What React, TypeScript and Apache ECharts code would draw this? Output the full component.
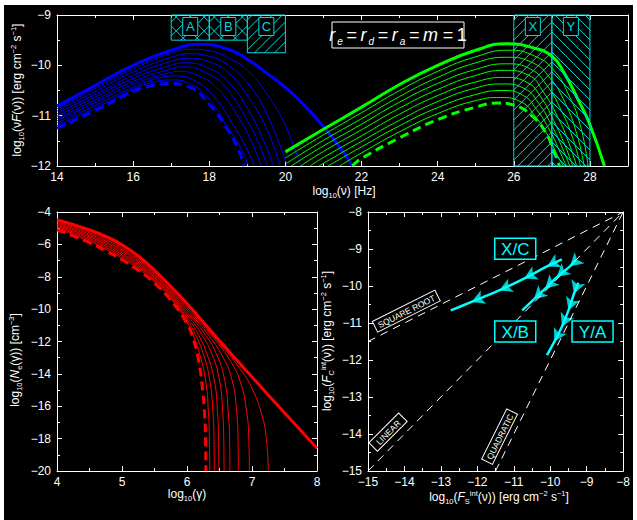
import React, { useEffect, useRef } from 'react';
import * as echarts from 'echarts';

const FONT = '"Liberation Sans", Arial, sans-serif';
const WHITE = '#ffffff';
const CYAN = '#00ffff';
const HATCH = '#00d8d8';
const BLUE = '#0000ff';
const GREEN = '#00ff00';
const RED = '#ff0000';

// ---------- top panel: synchrotron (blue) ----------
const blueSolid = [[14,-10.81],[15,-10.4],[16,-10.0],[17,-9.7],[17.75,-9.58],[18.5,-9.68],[19,-9.88],[19.5,-10.15],[20,-10.44],[20.5,-10.8],[21,-11.22],[21.5,-11.7],[21.76,-12]];
const blueThin1 = [[14,-10.86],[15,-10.46],[16,-10.07],[17,-9.76],[17.6,-9.68],[18,-9.71],[18.5,-9.85],[19,-10.1],[19.5,-10.55],[20,-11.2],[20.4,-12]];
const blueThin2 = [[14,-10.91],[15,-10.52],[16,-10.13],[17,-9.84],[17.5,-9.77],[18,-9.82],[18.5,-10.0],[19,-10.35],[19.5,-10.95],[20.05,-12]];
const blueThin3 = [[14,-10.96],[15,-10.58],[16,-10.2],[17,-9.92],[17.45,-9.86],[18,-9.93],[18.5,-10.15],[19,-10.6],[19.5,-11.25],[19.86,-12]];
const blueThin4 = [[14,-11.01],[15,-10.63],[16,-10.26],[17,-10.0],[17.35,-9.95],[18,-10.06],[18.5,-10.33],[19,-10.85],[19.4,-11.45],[19.69,-12]];
const blueThin5 = [[14,-11.06],[15,-10.69],[16,-10.32],[17,-10.07],[17.3,-10.03],[18,-10.18],[18.5,-10.5],[19,-11.1],[19.3,-11.55],[19.52,-12]];
const blueThin6 = [[14,-11.1],[15,-10.74],[16,-10.38],[17,-10.14],[17.2,-10.12],[17.7,-10.2],[18.2,-10.45],[18.7,-10.95],[19.1,-11.5],[19.36,-12]];
const blueThin7 = [[14,-11.15],[15,-10.8],[16,-10.44],[16.6,-10.27],[17.1,-10.21],[17.6,-10.3],[18.1,-10.6],[18.6,-11.15],[18.95,-11.6],[19.18,-12]];
const blueThin8 = [[14,-11.2],[15,-10.85],[16,-10.48],[16.5,-10.34],[17,-10.29],[17.5,-10.37],[18,-10.68],[18.5,-11.25],[18.8,-11.6],[19.03,-12]];
const blueDashed = [[14,-11.25],[15,-10.9],[16,-10.52],[16.5,-10.4],[16.9,-10.36],[17.5,-10.44],[18,-10.78],[18.5,-11.3],[18.75,-11.65],[18.92,-12]];

// ---------- top panel: inverse Compton (green) ----------
const greenSolid = [[20,-11.72],[21,-11.27],[22,-10.83],[23,-10.38],[24,-10.0],[25,-9.7],[25.8,-9.57],[26.5,-9.65],[27,-9.82],[27.3,-10.12],[27.7,-10.7],[28,-11.18],[28.38,-12]];
const greenThin1 = [[20,-11.84],[21,-11.38],[22,-10.94],[23,-10.5],[24,-10.12],[25,-9.83],[25.85,-9.7],[26.5,-9.8],[27.05,-10.1],[27.45,-10.6],[27.75,-11.2],[27.95,-12]];
const greenThin2 = [[20,-11.96],[21,-11.49],[22,-11.06],[23,-10.62],[24,-10.24],[25,-9.95],[25.8,-9.84],[26.5,-9.95],[26.95,-10.25],[27.35,-10.75],[27.65,-11.35],[27.85,-12]];
const greenThin3 = [[20.15,-12],[21,-11.6],[22,-11.17],[23,-10.73],[24,-10.36],[25,-10.08],[25.8,-9.97],[26.45,-10.08],[26.85,-10.38],[27.25,-10.9],[27.55,-11.45],[27.75,-12]];
const greenThin4 = [[20.4,-12],[21,-11.71],[22,-11.28],[23,-10.85],[24,-10.48],[25,-10.2],[25.75,-10.1],[26.4,-10.2],[26.75,-10.5],[27.15,-11.02],[27.45,-11.55],[27.65,-12]];
const greenThin5 = [[20.65,-12],[21,-11.83],[22,-11.4],[23,-10.97],[24,-10.6],[25,-10.33],[25.75,-10.24],[26.35,-10.34],[26.7,-10.62],[27.05,-11.1],[27.35,-11.6],[27.55,-12]];
const greenThin6 = [[20.88,-12],[22,-11.51],[23,-11.09],[24,-10.72],[25,-10.45],[25.7,-10.37],[26.3,-10.47],[26.65,-10.75],[27.0,-11.2],[27.28,-11.65],[27.47,-12]];
const greenThin7 = [[21.12,-12],[22,-11.62],[23,-11.2],[24,-10.84],[25,-10.58],[25.7,-10.5],[26.25,-10.6],[26.6,-10.88],[26.95,-11.3],[27.2,-11.7],[27.38,-12]];
const greenThin8 = [[21.42,-12],[22,-11.74],[23,-11.32],[24,-10.96],[25,-10.7],[25.65,-10.64],[26.2,-10.73],[26.55,-11.0],[26.9,-11.4],[27.12,-11.75],[27.3,-12]];
const greenDashed = [[21.76,-12],[22,-11.85],[23,-11.44],[24,-11.08],[25,-10.83],[25.6,-10.75],[26,-10.79],[26.5,-11.02],[26.85,-11.35],[27.05,-11.7],[27.2,-12]];

// hatched bands
const bandNames = ['A', 'B', 'C', 'X', 'Y'];
const bandX0 = [17, 18, 19, 26, 27];
const bandX1 = [18, 19, 20, 27, 28];
const bandTop = [-9, -9, -9, -9, -9];
const bandBottom = [-9.5, -9.5, -9.75, -12, -12];
const bandHatch = ['/\\', '/\\', '/', '/', '\\'];

// ---------- bottom-left: electron spectra (red) ----------
const redSolid = [[4,-4.47],[4.5,-5.1],[4.75,-5.5],[5,-6.02],[5.25,-6.72],[5.5,-7.6],[5.75,-8.6],[6,-9.65],[6.5,-11.95],[7,-14.2],[7.5,-16.4],[8,-18.6]];
const redThin1 = [[4,-4.54],[4.5,-5.19],[4.75,-5.6],[5,-6.12],[5.25,-6.82],[5.5,-7.69],[5.75,-8.69],[6,-9.78],[6.5,-12.1],[6.8,-13.6],[7,-14.9],[7.15,-16.5],[7.22,-18],[7.25,-20]];
const redThin2 = [[4,-4.61],[4.5,-5.28],[4.75,-5.7],[5,-6.23],[5.25,-6.92],[5.5,-7.78],[5.75,-8.79],[6,-9.92],[6.4,-11.75],[6.65,-13.1],[6.82,-14.5],[6.92,-16.4],[6.95,-18],[6.96,-20]];
const redThin3 = [[4,-4.68],[4.5,-5.37],[4.75,-5.8],[5,-6.33],[5.25,-7.01],[5.5,-7.87],[5.75,-8.88],[6,-10.05],[6.3,-11.45],[6.55,-12.95],[6.7,-14.5],[6.765,-16.4],[6.785,-18],[6.79,-20]];
const redThin4 = [[4,-4.75],[4.5,-5.46],[4.75,-5.9],[5,-6.43],[5.25,-7.11],[5.5,-7.96],[5.75,-8.98],[6,-10.2],[6.25,-11.4],[6.45,-12.75],[6.58,-14.4],[6.635,-16.4],[6.655,-18],[6.66,-20]];
const redThin5 = [[4,-4.82],[4.5,-5.54],[4.75,-6.0],[5,-6.54],[5.25,-7.21],[5.5,-8.04],[5.75,-9.07],[6,-10.35],[6.2,-11.4],[6.38,-12.75],[6.5,-14.4],[6.55,-16.4],[6.565,-18],[6.57,-20]];
const redThin6 = [[4,-4.89],[4.5,-5.63],[4.75,-6.1],[5,-6.64],[5.25,-7.31],[5.5,-8.13],[5.75,-9.17],[6,-10.5],[6.15,-11.4],[6.3,-12.7],[6.42,-14.4],[6.47,-16.4],[6.485,-18],[6.49,-20]];
const redThin7 = [[4,-4.96],[4.5,-5.72],[4.75,-6.2],[5,-6.74],[5.25,-7.4],[5.5,-8.22],[5.75,-9.26],[6,-10.65],[6.12,-11.5],[6.25,-12.75],[6.35,-14.4],[6.4,-16.4],[6.415,-18],[6.42,-20]];
const redThin8 = [[4,-5.03],[4.5,-5.81],[4.75,-6.3],[5,-6.85],[5.25,-7.5],[5.5,-8.31],[5.75,-9.36],[6,-10.78],[6.1,-11.65],[6.2,-12.85],[6.29,-14.5],[6.33,-16.4],[6.345,-18],[6.35,-20]];
const redDashed = [[4,-5.1],[4.5,-5.9],[4.75,-6.4],[5,-6.95],[5.25,-7.6],[5.5,-8.4],[5.75,-9.45],[6,-10.9],[6.1,-11.9],[6.17,-13.0],[6.23,-14.6],[6.27,-16.5],[6.285,-18],[6.29,-20]];

// ---------- bottom-right: flux-flux tracks ----------
const sqrtLine = [[-15, -11.5], [-8, -8]];
const linearLine = [[-15, -15], [-8, -8]];
const quadLine = [[-11.5, -15], [-8, -8]];
const trackXC = [[-9.68,-9.28],[-10.09,-9.47],[-10.72,-9.8],[-11.4,-10.12],[-12.16,-10.43],[-12.73,-10.66]];
const trackXB = [[-9.32,-9.31],[-9.46,-9.47],[-9.82,-9.76],[-10.14,-10.07],[-10.45,-10.36],[-10.77,-10.66]];
const trackYA = [[-9.23,-9.91],[-9.35,-10.21],[-9.5,-10.66],[-9.68,-11.1],[-9.89,-11.51],[-10.09,-11.87]];
const ratioNames = ['X/C', 'X/B', 'Y/A'];
const ratioX = [-10.96, -10.96, -8.84];
const ratioY = [-8.99, -11.23, -11.23];
const guideNames = ['SQUARE ROOT', 'LINEAR', 'QUADRATIC'];
const guideX = [-13.95, -14.45, -11.39];
const guideY = [-10.68, -13.95, -14.07];
const guideSlope = [0.5, 1, 2];
const guideBoxW = [70, 42, 56];

const fmt = (v: number) => (v < 0 ? '\u2212' + Math.abs(v) : String(v));

function axis(kind: 'x' | 'y', gridIndex: number, min: number, max: number, interval: number, position: string, labels: boolean, extra: any = {}) {
  return {
    type: 'value', gridIndex, min, max, interval, position,
    axisLine: { show: true, onZero: false, lineStyle: { color: WHITE, width: 1 } },
    axisTick: { show: true, inside: true, length: 5, lineStyle: { color: WHITE, width: 1 } },
    minorTick: { show: true, splitNumber: 2, length: 3, lineStyle: { color: WHITE, width: 1 } },
    splitLine: { show: false },
    minorSplitLine: { show: false },
    axisLabel: { show: labels, color: WHITE, fontFamily: FONT, fontSize: 12, margin: kind === 'x' ? 5 : 6, formatter: fmt, ...extra },
  };
}

function curve(data: number[][], g: number, color: string, width: number, dashed = false) {
  return {
    type: 'line', xAxisIndex: g, yAxisIndex: g, data, symbol: 'none', showSymbol: false,
    smooth: 0.5, silent: true, clip: true,
    lineStyle: { color, width, type: dashed ? [9, 5] : 'solid' },
  };
}

function heads(track: number[][]) {
  return track.slice(1, -1).map((p, k) => {
    const prev = track[k];
    const next = track[k + 2];
    const ang = (Math.atan2(next[1] - prev[1], next[0] - prev[0]) * 180) / Math.PI;
    return { value: p, symbolRotate: ang - 90 };
  });
}

const richBase = (size: number) => ({
  n: { fontSize: size, fontFamily: FONT, fill: WHITE, lineHeight: 16 },
  i: { fontSize: size, fontFamily: FONT, fill: WHITE, fontStyle: 'italic', lineHeight: 16 },
  s: { fontSize: 7.5, fontFamily: FONT, fill: WHITE, verticalAlign: 'bottom', lineHeight: 8 },
  p: { fontSize: 7.5, fontFamily: FONT, fill: WHITE, verticalAlign: 'top', lineHeight: 8 },
});

export default function App() {
  const ref = useRef<HTMLDivElement>(null);
  useEffect(() => {
    const chart = echarts.init(ref.current!, undefined, { renderer: 'svg' });
    const series: any[] = [];
    [blueThin1, blueThin2, blueThin3, blueThin4, blueThin5, blueThin6, blueThin7, blueThin8].forEach((d) => series.push(curve(d, 0, BLUE, 1)));
    series.push(curve(blueSolid, 0, BLUE, 3));
    series.push(curve(blueDashed, 0, BLUE, 3, true));
    [greenThin1, greenThin2, greenThin3, greenThin4, greenThin5, greenThin6, greenThin7, greenThin8].forEach((d) => series.push(curve(d, 0, GREEN, 1)));
    series.push(curve(greenSolid, 0, GREEN, 3));
    series.push(curve(greenDashed, 0, GREEN, 3, true));
    series.push({
      type: 'custom', xAxisIndex: 0, yAxisIndex: 0, silent: true, clip: false, z: 5,
      data: bandX0.map((x0, i) => [x0, bandX1[i], bandTop[i], bandBottom[i]]),
      encode: { x: [0, 1], y: [2, 3] },
      renderItem: (params: any, api: any) => {
        const i = params.dataIndex;
        const a = api.coord([api.value(0), api.value(2)]);
        const b = api.coord([api.value(1), api.value(3)]);
        const L = a[0], T = a[1], R = b[0], B = b[1];
        const kids: any[] = [];
        const seg = (x1: number, y1: number, x2: number, y2: number) =>
          kids.push({ type: 'line', shape: { x1, y1, x2, y2 }, style: { stroke: HATCH, lineWidth: 1 } });
        const mode = bandHatch[i];
        const spacing = mode.length > 1 ? 14 : 10;
        if (mode.includes('/')) {
          for (let c = L + T + spacing / 2; c < R + B; c += spacing) {
            const xs = Math.max(L, c - B), xe = Math.min(R, c - T);
            if (xe > xs) seg(xs, c - xs, xe, c - xe);
          }
        }
        if (mode.includes('\\')) {
          for (let c = T - R + spacing / 2; c < B - L; c += spacing) {
            const xs = Math.max(L, T - c), xe = Math.min(R, B - c);
            if (xe > xs) seg(xs, xs + c, xe, xe + c);
          }
        }
        kids.push({ type: 'rect', shape: { x: L, y: T, width: R - L, height: B - T }, style: { fill: 'none', stroke: HATCH, lineWidth: 1 } });
        const cx = (L + R) / 2;
        kids.push({ type: 'rect', shape: { x: cx - 7.5, y: T + 2.5, width: 15, height: 18 }, style: { fill: '#000', stroke: HATCH, lineWidth: 1 } });
        kids.push({ type: 'text', style: { text: bandNames[i], x: cx, y: T + 11.5, align: 'center', verticalAlign: 'middle', fill: HATCH, fontSize: 13, fontFamily: FONT } });
        return { type: 'group', children: kids };
      },
    });
    [redThin1, redThin2, redThin3, redThin4, redThin5, redThin6, redThin7, redThin8].forEach((d) => series.push(curve(d, 1, RED, 1)));
    series.push(curve(redSolid, 1, RED, 3));
    series.push(curve(redDashed, 1, RED, 3, true));
    [sqrtLine, linearLine, quadLine].forEach((d) =>
      series.push({ type: 'line', xAxisIndex: 2, yAxisIndex: 2, data: d, symbol: 'none', silent: true, lineStyle: { color: WHITE, width: 1, type: [8, 6] } })
    );
    [trackXC, trackXB, trackYA].forEach((d) => {
      series.push({ type: 'line', xAxisIndex: 2, yAxisIndex: 2, data: d, symbol: 'none', smooth: 0.2, silent: true, lineStyle: { color: CYAN, width: 2.5 } });
      series.push({ type: 'scatter', xAxisIndex: 2, yAxisIndex: 2, data: heads(d), symbol: 'arrow', symbolSize: [11, 13], silent: true, itemStyle: { color: CYAN } });
    });

    chart.setOption({
      animation: false,
      backgroundColor: '#000',
      grid: [
        { left: 53, top: 10, width: 571, height: 151 },
        { left: 53, top: 207, width: 260, height: 259 },
        { left: 364, top: 207, width: 259, height: 259 },
      ],
      xAxis: [
        axis('x', 0, 14, 29, 2, 'bottom', true, { showMaxLabel: false }),
        axis('x', 1, 4, 8, 1, 'bottom', true),
        axis('x', 2, -15, -8, 1, 'bottom', true),
        axis('x', 0, 14, 29, 2, 'top', false),
        axis('x', 1, 4, 8, 1, 'top', false),
        axis('x', 2, -15, -8, 1, 'top', false),
      ],
      yAxis: [
        axis('y', 0, -12, -9, 1, 'left', true),
        axis('y', 1, -20, -4, 2, 'left', true),
        axis('y', 2, -15, -8, 1, 'left', true),
        axis('y', 0, -12, -9, 1, 'right', false),
        axis('y', 1, -20, -4, 2, 'right', false),
        axis('y', 2, -15, -8, 1, 'right', false),
      ],
      series,
    });

    const P = (g: number, p: number[]) => chart.convertToPixel({ xAxisIndex: g, yAxisIndex: g } as any, p) as number[];
    const graphics: any[] = [];
    const name = (text: string, x: number, y: number, rot = 0) =>
      graphics.push({ type: 'text', x, y, rotation: rot, z: 100, style: { text, align: 'center', verticalAlign: 'middle', rich: richBase(12) } });
    name('{n|log}{s|10}{n|(ν) [Hz]}', 340, 186);
    name('{n|log}{s|10}{n|(ν}{i|F}{n|(ν)) [erg cm}{p|−2}{n| s}{p|−1}{n|]}', 13, 85, Math.PI / 2);
    name('{n|log}{s|10}{n|(γ)}', 183, 489);
    name('{n|log}{s|10}{n|(}{i|N}{s|e}{n|(γ)) [cm}{p|−3}{n|]}', 11, 355, Math.PI / 2);
    name('{n|log}{s|10}{n|(}{i|F}{s|S}{p|int}{n|(ν)) [erg cm}{p|−2}{n| s}{p|−1}{n|]}', 495, 492);
    name('{n|log}{s|10}{n|(}{i|F}{s|C}{p|int}{n|(ν)) [erg cm}{p|−2}{n| s}{p|−1}{n|]}', 323, 336, Math.PI / 2);

    // parameter box
    graphics.push({ type: 'rect', z: 100, shape: { x: 328, y: 17, width: 132, height: 26 }, style: { fill: '#000', stroke: WHITE, lineWidth: 1 } });
    graphics.push({
      type: 'text', x: 394, y: 30, z: 101,
      style: {
        text: '{i|r}{s|e}{n|\u2009=\u2009}{i|r}{s|d}{n|\u2009=\u2009}{i|r}{s|a}{n|\u2009=\u2009}{i|m}{n|\u2009=\u20091}', align: 'center', verticalAlign: 'middle',
        rich: {
          n: { fontSize: 18, fontFamily: FONT, fill: WHITE, lineHeight: 22 },
          i: { fontSize: 18, fontFamily: FONT, fill: WHITE, fontStyle: 'italic', lineHeight: 22, padding: [0, 1, 0, 0] },
          s: { fontSize: 10, fontFamily: FONT, fill: WHITE, fontStyle: 'italic', verticalAlign: 'bottom', lineHeight: 10, padding: [0, 0, 0, 1] },
        },
      },
    });

    ratioNames.forEach((t, i) => {
      const c = P(2, [ratioX[i], ratioY[i]]);
      graphics.push({ type: 'rect', z: 100, shape: { x: c[0] - 20.5, y: c[1] - 10.5, width: 41, height: 21 }, style: { fill: '#000', stroke: CYAN, lineWidth: 1.5 } });
      graphics.push({ type: 'text', z: 101, x: c[0], y: c[1] + 0.5, style: { text: t, align: 'center', verticalAlign: 'middle', fill: CYAN, fontSize: 17, fontFamily: FONT } });
    });

    guideNames.forEach((t, i) => {
      const c = P(2, [guideX[i], guideY[i]]);
      const w = guideBoxW[i];
      graphics.push({
        type: 'group', x: c[0], y: c[1], rotation: Math.atan(guideSlope[i]), z: 100,
        children: [
          { type: 'rect', z: 100, shape: { x: -w / 2, y: -6, width: w, height: 12 }, style: { fill: '#000', stroke: WHITE, lineWidth: 1 } },
          { type: 'text', z: 101, x: 0, y: 0.5, style: { text: t, align: 'center', verticalAlign: 'middle', fill: WHITE, fontSize: 8.5, fontFamily: FONT } },
        ],
      });
    });

    chart.setOption({ graphic: graphics });
    return () => chart.dispose();
  }, []);
  return (
    <div style={{ position: 'fixed', left: 0, top: 0, width: 637, height: 520, background: '#fff' }}>
      <div ref={ref} style={{ position: 'absolute', left: 4, top: 5, width: 629, height: 515 }} />
    </div>
  );
}
